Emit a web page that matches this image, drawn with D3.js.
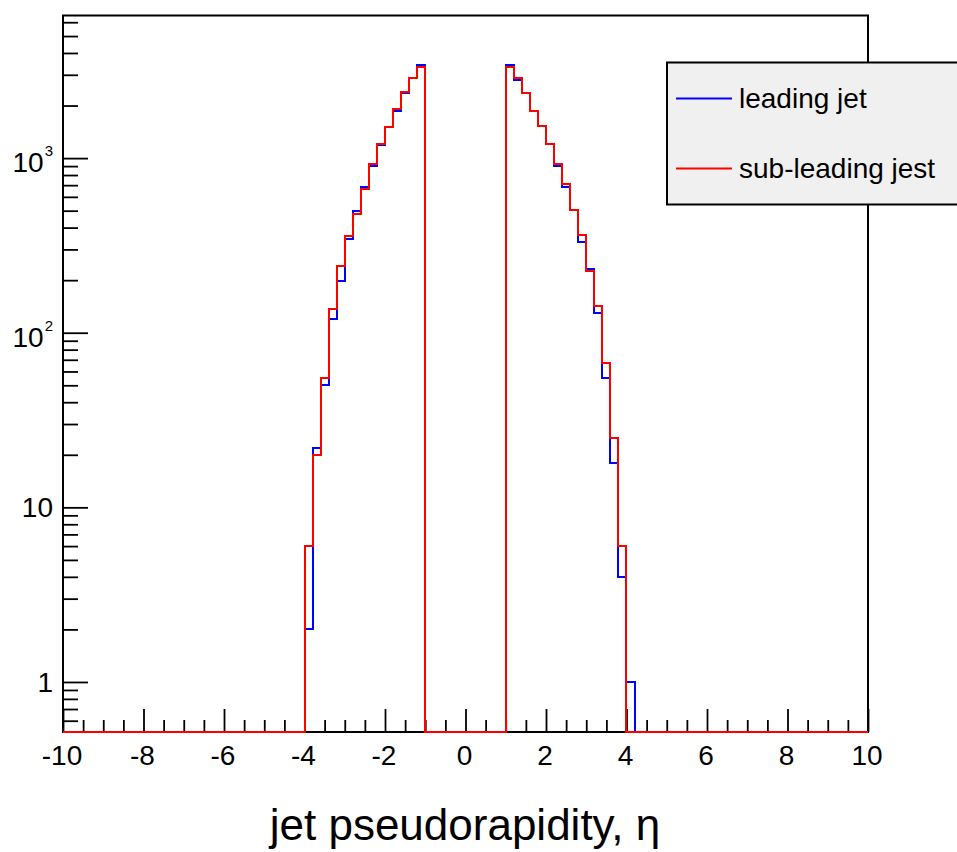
<!DOCTYPE html>
<html>
<head>
<meta charset="utf-8">
<script src="https://cdn.jsdelivr.net/npm/d3@7"></script>
<style>
  html, body { margin: 0; padding: 0; background: #fff; }
  svg { display: block; }
  text { font-family: "Liberation Sans", Arial, Helvetica, sans-serif; fill: #000; }
</style>
</head>
<body>
<svg id="chart" width="957" height="852"></svg>
<script>
// ---------------- data ----------------
const binWidth = 0.2;
const binLow = [-4.0, -3.8, -3.6, -3.4, -3.2, -3.0, -2.8, -2.6, -2.4, -2.2, -2.0, -1.8, -1.6, -1.4, -1.2,
                 1.0, 1.2, 1.4, 1.6, 1.8, 2.0, 2.2, 2.4, 2.6, 2.8, 3.0, 3.2, 3.4, 3.6, 3.8, 4.0];
const leadingJet = [2, 22, 50, 120, 198, 342, 501, 682, 896, 1190, 1510, 1866, 2367, 2885, 3398,
                    3398, 2799, 2370, 1860, 1525, 1198, 900, 685, 504, 329, 231, 129, 55, 18, 4, 1];
const subLeadingJet = [6, 20, 55, 137, 240, 359, 476, 662, 920, 1200, 1511, 1901, 2399, 2864, 3337,
                       3337, 2885, 2367, 1860, 1525, 1198, 920, 707, 504, 362, 225, 142, 67, 25, 6, 0];
const xMajorTicks = [-10, -8, -6, -4, -2, 0, 2, 4, 6, 8, 10];
const xMinorTicks = [-9.5, -9, -8.5, -7.5, -7, -6.5, -5.5, -5, -4.5, -3.5, -3, -2.5, -1.5, -1, -0.5,
                     0.5, 1, 1.5, 2.5, 3, 3.5, 4.5, 5, 5.5, 6.5, 7, 7.5, 8.5, 9, 9.5];
const yMajorTicks = [1, 10, 100, 1000];
const yTickLabels = [{base: "1", exp: ""}, {base: "10", exp: ""}, {base: "10", exp: "2"}, {base: "10", exp: "3"}];
const legendLabels = ["leading jet", "sub-leading jest"];
const seriesColors = ["#0000ff", "#ff0000"];
const xTitle = "jet pseudorapidity, \u03b7";

// ---------------- layout ----------------
const L = 63, R = 868, T = 15.5, B = 732;
const svg = d3.select("#chart");

const x = d3.scaleLinear().domain([-10, 10]).range([L, R]);
const yMin = 0.517, yMax = 6556;
const y = d3.scaleLog().domain([yMin, yMax]).range([B, T]);

// frame
svg.append("rect").attr("x", L).attr("y", T).attr("width", R - L).attr("height", B - T)
  .attr("fill", "none").attr("stroke", "#000").attr("stroke-width", 2);

// x axis ticks
function styleAxis(g) {
  g.select(".domain").remove();
  g.selectAll(".tick line").attr("stroke", "#000").attr("stroke-width", 1.8);
}
svg.append("g").attr("transform", `translate(0,${B})`)
  .call(d3.axisBottom(x).tickValues(xMajorTicks).tickSize(-23).tickSizeOuter(0).tickFormat(""))
  .call(styleAxis);
svg.append("g").attr("transform", `translate(0,${B})`)
  .call(d3.axisBottom(x).tickValues(xMinorTicks).tickSize(-12).tickSizeOuter(0).tickFormat(""))
  .call(styleAxis);

// y axis ticks
const yMinor = y.ticks().filter(v => !yMajorTicks.some(m => Math.abs(m - v) < 1e-9));
svg.append("g").attr("transform", `translate(${L},0)`)
  .call(d3.axisLeft(y).tickValues(yMajorTicks).tickSize(-25).tickSizeOuter(0).tickFormat(""))
  .call(styleAxis);
svg.append("g").attr("transform", `translate(${L},0)`)
  .call(d3.axisLeft(y).tickValues(yMinor).tickSize(-15).tickSizeOuter(0).tickFormat(""))
  .call(styleAxis);

// x tick labels
svg.append("g").selectAll("text").data(xMajorTicks).join("text")
  .attr("x", d => x(d) - 1).attr("y", B + 33)
  .attr("text-anchor", "middle").attr("font-size", 28)
  .text(d => d);

// y tick labels
const yl = svg.append("g").selectAll("text").data(yMajorTicks).join("text")
  .attr("x", 53)
  .attr("y", (d, i) => y(d) + (yTickLabels[i].exp ? 14 : 10))
  .attr("text-anchor", "end").attr("font-size", 28);
yl.each(function (d, i) {
  const t = d3.select(this);
  t.append("tspan").text(yTickLabels[i].base);
  if (yTickLabels[i].exp) {
    t.append("tspan").attr("font-size", 15).attr("dx", 1).attr("dy", -16).text(yTickLabels[i].exp);
  }
});

// x title
svg.append("text").attr("x", 465).attr("y", 840).attr("text-anchor", "middle")
  .attr("font-size", 44).text(xTitle);

// histograms
function histPoints(counts) {
  const pts = [[x.domain()[0], yMin]];
  let prevEnd = x.domain()[0];
  binLow.forEach((lo, i) => {
    if (lo - prevEnd > 1e-6) {
      pts.push([prevEnd, yMin]);
      pts.push([lo, yMin]);
    }
    const v = counts[i] > 0 ? Math.max(counts[i], yMin) : yMin;
    pts.push([lo, v]);
    pts.push([lo + binWidth, v]);
    prevEnd = lo + binWidth;
  });
  pts.push([prevEnd, yMin]);
  pts.push([x.domain()[1], yMin]);
  return pts;
}
const line = d3.line().x(d => Math.round(x(d[0]))).y(d => Math.round(y(d[1])));
[leadingJet, subLeadingJet].forEach((s, k) => {
  svg.append("path").attr("d", line(histPoints(s)))
    .attr("fill", "none").attr("stroke", seriesColors[k]).attr("stroke-width", 2)
    .attr("stroke-linejoin", "miter");
});

// legend
const lg = svg.append("g");
lg.append("rect").attr("x", 667).attr("y", 62.5).attr("width", 300).attr("height", 142)
  .attr("fill", "#f0f0f0").attr("stroke", "#000").attr("stroke-width", 2);
const ly = [98.5, 168.5];
legendLabels.forEach((lab, i) => {
  lg.append("line").attr("x1", 676).attr("x2", 732).attr("y1", ly[i]).attr("y2", ly[i])
    .attr("stroke", seriesColors[i]).attr("stroke-width", 2);
  lg.append("text").attr("x", 739).attr("y", ly[i] + 9).attr("font-size", 28).text(lab);
});
</script>
</body>
</html>
